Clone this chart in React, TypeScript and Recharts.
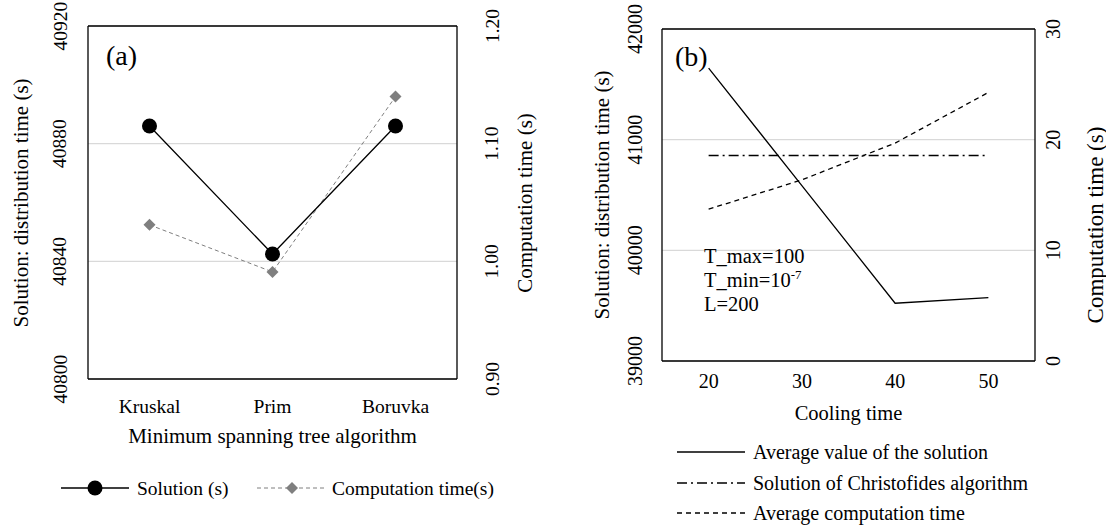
import React from 'react';
import {
  LineChart,
  Line,
  XAxis,
  YAxis,
  CartesianGrid,
  ReferenceLine,
  Legend,
  Label,
  Customized,
} from 'recharts';

// ---------- Chart (a) data ----------
const mstAlgorithms = ['Kruskal', 'Prim', 'Boruvka'];
const mstSolution = [40886, 40842.5, 40886];
const mstComputation = [1.031, 0.991, 1.14];
const mstLeftTicks = [40800, 40840, 40880, 40920];
const mstRightTicks = [0.9, 1.0, 1.1, 1.2];

// ---------- Chart (b) data ----------
const coolingTimes = [20, 30, 40, 50];
const avgSolution = [41647, 40585, 39522, 39572];
const christofides = [40857, 40857, 40857, 40857];
const avgComputation = [13.72, 16.37, 19.69, 24.27];
const coolLeftTicks = [39000, 40000, 41000, 42000];
const coolRightTicks = [0, 10, 20, 30];
const coolXTicks = [20, 30, 40, 50];

const mstData = mstAlgorithms.map((name, i) => ({
  name,
  solution: mstSolution[i],
  computation: mstComputation[i],
}));

const coolData = coolingTimes.map((x, i) => ({
  x,
  avg: avgSolution[i],
  chr: christofides[i],
  comp: avgComputation[i],
}));

const FONT = '"Liberation Serif", "Times New Roman", Times, serif';
const GRID = '#d9d9d9';

function makeRotTick(cx: number, size: number, fmt: (v: number) => string) {
  return (props: any) => {
    const { y, payload } = props;
    return (
      <text
        x={cx}
        y={y}
        transform={`rotate(-90 ${cx} ${y})`}
        textAnchor="middle"
        dominantBaseline="central"
        style={{ fontFamily: FONT }}
        fontSize={size}
        fill="#000"
      >
        {fmt(payload.value)}
      </text>
    );
  };
}

function makeXTick(ty: number, size: number) {
  return (props: any) => {
    const { x, payload } = props;
    return (
      <text
        x={x}
        y={ty}
        textAnchor="middle"
        dominantBaseline="central"
        style={{ fontFamily: FONT }}
        fontSize={size}
        fill="#000"
      >
        {payload.value}
      </text>
    );
  };
}

function vTitle(x: number, y: number, text: string, size: number) {
  return () => (
    <text
      x={x}
      y={y}
      transform={`rotate(-90 ${x} ${y})`}
      textAnchor="middle"
      dominantBaseline="central"
      style={{ fontFamily: FONT }}
      fontSize={size}
      fill="#000"
    >
      {text}
    </text>
  );
}

function hTitle(x: number, y: number, text: string, size: number) {
  return () => (
    <text
      x={x}
      y={y}
      textAnchor="middle"
      dominantBaseline="central"
      style={{ fontFamily: FONT }}
      fontSize={size}
      fill="#000"
    >
      {text}
    </text>
  );
}

const diamondDot = (p: any) => {
  const { cx, cy, index } = p;
  const s = 6;
  return (
    <path
      key={`d-${index}`}
      d={`M${cx},${cy - s}L${cx + s},${cy}L${cx},${cy + s}L${cx - s},${cy}Z`}
      fill="#7f7f7f"
      stroke="none"
    />
  );
};

const legendA = () => (
  <svg width={560} height={40} style={{ display: 'block', fontFamily: FONT }}>
    <line x1={61} y1={20} x2={129} y2={20} stroke="#000" strokeWidth={1.3} />
    <circle cx={95} cy={20} r={7.5} fill="#000" />
    <text x={137} y={20} dominantBaseline="central" fontSize={19.5} fill="#000">
      Solution (s)
    </text>
    <line x1={257} y1={20} x2={325} y2={20} stroke="#7f7f7f" strokeWidth={1} strokeDasharray="4 3" />
    <path d="M292,14L298,20L292,26L286,20Z" fill="#7f7f7f" />
    <text x={332} y={20} dominantBaseline="central" fontSize={19.5} fill="#000">
      Computation time(s)
    </text>
  </svg>
);

const legendB = () => (
  <svg width={546} height={86} style={{ display: 'block', fontFamily: FONT }}>
    <line x1={117} y1={10} x2={185} y2={10} stroke="#000" strokeWidth={1.3} />
    <text x={193} y={10} dominantBaseline="central" fontSize={20} fill="#000">
      Average value of the solution
    </text>
    <line x1={117} y1={41} x2={185} y2={41} stroke="#000" strokeWidth={1.3} strokeDasharray="10 4 2 4" />
    <text x={193} y={41} dominantBaseline="central" fontSize={20} fill="#000">
      Solution of Christofides algorithm
    </text>
    <line x1={117} y1={71} x2={185} y2={71} stroke="#000" strokeWidth={1.3} strokeDasharray="5 4" />
    <text x={193} y={71} dominantBaseline="central" fontSize={20} fill="#000">
      Average computation time
    </text>
  </svg>
);

function ChartA() {
  return (
    <LineChart width={560} height={528} data={mstData} margin={{ top: 26, right: 0, bottom: 109, left: 0 }}>
      <CartesianGrid yAxisId="left" vertical={false} stroke={GRID} strokeWidth={1.3} />
      <XAxis
        dataKey="name"
        type="category"
        height={40}
        padding={{ left: 61.5, right: 61.5 }}
        axisLine={{ stroke: '#000', strokeWidth: 1.3 }}
        tickLine={false}
        tick={makeXTick(406, 19.5)}
        interval={0}
      >
        <Label content={hTitle(272.5, 436, 'Minimum spanning tree algorithm', 21)} />
      </XAxis>
      <YAxis
        yAxisId="left"
        width={88}
        domain={[40800, 40920]}
        ticks={mstLeftTicks}
        allowDataOverflow
        axisLine={{ stroke: '#000', strokeWidth: 1.3 }}
        tickLine={false}
        tick={makeRotTick(60, 19.5, (v) => String(v))}
      >
        <Label content={vTitle(21, 203, 'Solution: distribution time (s)', 21)} />
      </YAxis>
      <YAxis
        yAxisId="right"
        orientation="right"
        width={103}
        domain={[0.9, 1.2]}
        ticks={mstRightTicks}
        allowDataOverflow
        axisLine={{ stroke: '#000', strokeWidth: 1.3 }}
        tickLine={false}
        tick={makeRotTick(492, 19.5, (v) => v.toFixed(2))}
      >
        <Label content={vTitle(525, 203, 'Computation time (s)', 21)} />
      </YAxis>
      <ReferenceLine yAxisId="left" y={40920} stroke="#000" strokeWidth={1.3} />
      <Line
        yAxisId="right"
        dataKey="computation"
        stroke="#7f7f7f"
        strokeWidth={1}
        strokeDasharray="4 3"
        dot={diamondDot}
        activeDot={false}
        isAnimationActive={false}
      />
      <Line
        yAxisId="left"
        dataKey="solution"
        stroke="#000"
        strokeWidth={1.3}
        dot={{ r: 7.5, fill: '#000', stroke: 'none' }}
        activeDot={false}
        isAnimationActive={false}
      />
      <Customized
        component={() => (
          <text x={106} y={55} dominantBaseline="central" style={{ fontFamily: FONT }} fontSize={28} fill="#000">
            (a)
          </text>
        )}
      />
      <Legend
        layout="vertical"
        align="center"
        verticalAlign="middle"
        content={legendA}
        wrapperStyle={{ left: 0, top: 468, width: 560, height: 40 }}
      />
    </LineChart>
  );
}

function ChartB() {
  return (
    <LineChart width={546} height={528} data={coolData} margin={{ top: 29, right: 0, bottom: 127, left: 0 }}>
      <CartesianGrid yAxisId="left" vertical={false} stroke={GRID} strokeWidth={1.3} />
      <XAxis
        dataKey="x"
        type="number"
        domain={[15, 55]}
        ticks={coolXTicks}
        height={40}
        axisLine={{ stroke: '#000', strokeWidth: 1.3 }}
        tickLine={false}
        tick={makeXTick(381, 20)}
        interval={0}
      >
        <Label content={hTitle(288.5, 413, 'Cooling time', 20.5)} />
      </XAxis>
      <YAxis
        yAxisId="left"
        width={102}
        domain={[39000, 42000]}
        ticks={coolLeftTicks}
        allowDataOverflow
        axisLine={{ stroke: '#000', strokeWidth: 1.3 }}
        tickLine={false}
        tick={makeRotTick(75, 20, (v) => String(v))}
      >
        <Label content={vTitle(42, 195, 'Solution: distribution time (s)', 21)} />
      </YAxis>
      <YAxis
        yAxisId="right"
        orientation="right"
        width={71}
        domain={[0, 30]}
        ticks={coolRightTicks}
        allowDataOverflow
        axisLine={{ stroke: '#000', strokeWidth: 1.3 }}
        tickLine={false}
        tick={makeRotTick(493, 20, (v) => String(v))}
      >
        <Label content={vTitle(535, 225, 'Computation time (s)', 23)} />
      </YAxis>
      <ReferenceLine yAxisId="left" y={42000} stroke="#000" strokeWidth={1.3} />
      <Line
        yAxisId="left"
        dataKey="avg"
        stroke="#000"
        strokeWidth={1.3}
        dot={false}
        activeDot={false}
        isAnimationActive={false}
      />
      <Line
        yAxisId="left"
        dataKey="chr"
        stroke="#000"
        strokeWidth={1.3}
        strokeDasharray="10 4 2 4"
        dot={false}
        activeDot={false}
        isAnimationActive={false}
      />
      <Line
        yAxisId="right"
        dataKey="comp"
        stroke="#000"
        strokeWidth={1.3}
        strokeDasharray="5 4"
        dot={false}
        activeDot={false}
        isAnimationActive={false}
      />
      <Customized
        component={() => (
          <g style={{ fontFamily: FONT }} fill="#000">
            <text x={115} y={56} dominantBaseline="central" fontSize={28}>
              (b)
            </text>
            <text x={144} y={256} dominantBaseline="central" fontSize={20.5}>
              T_max=100
            </text>
            <text x={144} y={280} dominantBaseline="central" fontSize={20.5}>
              T_min=10
              <tspan fontSize={13} dy={-6}>
                -7
              </tspan>
            </text>
            <text x={144} y={304} dominantBaseline="central" fontSize={20.5}>
              L=200
            </text>
          </g>
        )}
      />
      <Legend
        layout="vertical"
        align="center"
        verticalAlign="middle"
        content={legendB}
        wrapperStyle={{ left: 0, top: 442, width: 546, height: 86 }}
      />
    </LineChart>
  );
}

export default function App() {
  return (
    <div
      style={{
        position: 'absolute',
        left: 0,
        top: 0,
        width: 1106,
        height: 528,
        background: '#fff',
        overflow: 'hidden',
        fontFamily: FONT,
      }}
    >
      <div style={{ position: 'absolute', left: 0, top: 0 }}>
        <ChartA />
      </div>
      <div style={{ position: 'absolute', left: 560, top: 0 }}>
        <ChartB />
      </div>
    </div>
  );
}
